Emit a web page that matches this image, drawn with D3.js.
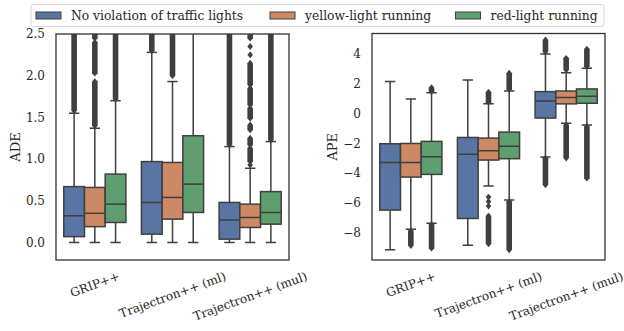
<!DOCTYPE html>
<html>
<head>
<meta charset="utf-8">
<script src="https://cdn.jsdelivr.net/npm/d3@7"></script>
<style>
  body { margin: 0; background: #fff; }
  svg text { font-family: "DejaVu Serif", "Liberation Serif", serif; fill: #262626; }
</style>
</head>
<body>
<svg id="chart" width="624" height="331"></svg>
<script>
const groups = ["GRIP++", "Trajectron++ (ml)", "Trajectron++ (mul)"];
const series = ["No violation of traffic lights", "yellow-light running", "red-light running"];
const colors = ["#5875a4", "#cc8963", "#5f9e6e"];

// box stats per group: [whisker low, q1, median, q3, whisker high]
const adeNoViolation = [[0, 0.07, 0.32, 0.67, 1.55], [0, 0.10, 0.48, 0.97, 2.28], [0, 0.04, 0.27, 0.48, 1.15]];
const adeYellow = [[0, 0.19, 0.35, 0.66, 1.37], [0, 0.28, 0.54, 0.96, 1.93], [0, 0.18, 0.30, 0.46, 0.89]];
const adeRed = [[0, 0.24, 0.46, 0.82, 1.70], [0, 0.36, 0.70, 1.28, 2.90], [0, 0.22, 0.36, 0.61, 1.21]];

// outliers per group, as [low, high] runs (a single point has low == high)
const adeFliersNoViolation = [[[1.58, 2.6]], [[2.30, 2.6]], [[1.17, 2.6]]];
const adeFliersYellow = [
  [[2.45, 2.6], [2.03, 2.40], [1.40, 1.93]],
  [[2.00, 2.6]],
  [[2.45, 2.6], [2.35, 2.35], [2.25, 2.25], [1.89, 2.15], [1.65, 1.85], [1.49, 1.61], [1.35, 1.41], [1.17, 1.25], [0.97, 1.13], [0.93, 0.93]]
];
const adeFliersRed = [[[1.72, 2.6]], [], [[1.23, 2.6]]];

const apeNoViolation = [[-9.13, -6.47, -3.28, -2.03, 2.13], [-8.82, -7.03, -2.74, -1.61, 2.24], [-2.91, -0.31, 0.84, 1.46, 3.98]];
const apeYellow = [[-7.75, -4.26, -3.28, -2.01, 0.97], [-4.85, -3.12, -2.50, -1.65, 0.65], [-0.66, 0.64, 1.06, 1.50, 2.73]];
const apeRed = [[-7.35, -4.08, -2.90, -1.87, 1.39], [-5.79, -3.03, -2.19, -1.25, 1.50], [-0.77, 0.68, 1.15, 1.64, 3.02]];

const apeFliersNoViolation = [[], [], [[4.13, 4.92], [-4.78, -3.00]]];
const apeFliersYellow = [
  [[-8.84, -7.85]],
  [[0.75, 1.42], [-5.60, -5.60], [-5.90, -5.90], [-6.20, -6.20], [-8.73, -6.86]],
  [[2.91, 3.69], [-2.99, -0.77]]
];
const apeFliersRed = [[[1.47, 1.72], [-9.02, -7.45]], [[1.60, 2.69], [-9.13, -5.90]], [[3.13, 4.31], [-4.33, -0.87]]];

const adeTicks = [0, 0.5, 1.0, 1.5, 2.0, 2.5];
const apeTicks = [-8, -6, -4, -2, 0, 2, 4];

const lineColor = "#3f3f3f";
const tickFont = 12;
const svg = d3.select("#chart");

function drawPanel(id, frame, domain, ticks, fmt, label, stats, fliers) {
  const g = svg.append("g");
  const x = d3.scaleBand().domain(groups).range([frame.left, frame.right])
    .paddingInner(0.2).paddingOuter(0.1);
  const xs = d3.scaleBand().domain(series).range([0, x.bandwidth()]);
  const y = d3.scaleLinear().domain(domain).range([frame.bottom, frame.top]);

  g.append("clipPath").attr("id", id)
    .append("rect")
    .attr("x", frame.left).attr("y", frame.top)
    .attr("width", frame.right - frame.left).attr("height", frame.bottom - frame.top);

  const plot = g.append("g").attr("clip-path", `url(#${id})`);

  series.forEach((s, si) => {
    groups.forEach((grp, gi) => {
      const [lo, q1, med, q3, hi] = stats[si][gi];
      const x0 = x(grp) + xs(s);
      const w = xs.bandwidth();
      const cx = x0 + w / 2;
      const cap = w / 4;
      const b = plot.append("g")
        .attr("stroke", lineColor).attr("stroke-width", 1.5);

      // whiskers and caps
      b.append("line").attr("x1", cx).attr("x2", cx).attr("y1", y(q3)).attr("y2", y(hi));
      b.append("line").attr("x1", cx).attr("x2", cx).attr("y1", y(q1)).attr("y2", y(lo));
      b.append("line").attr("x1", cx - cap).attr("x2", cx + cap).attr("y1", y(hi)).attr("y2", y(hi));
      b.append("line").attr("x1", cx - cap).attr("x2", cx + cap).attr("y1", y(lo)).attr("y2", y(lo));

      b.append("rect")
        .attr("x", x0).attr("y", y(q3))
        .attr("width", w).attr("height", y(q1) - y(q3))
        .attr("fill", colors[si]);
      b.append("line").attr("x1", x0).attr("x2", x0 + w).attr("y1", y(med)).attr("y2", y(med));

      // outliers: diamonds, dense runs drawn as a stretched diamond
      const hw = 2.8, hh = 3.4;
      fliers[si][gi].forEach(([a, c]) => {
        const yt = y(c), yb = y(a);
        plot.append("path")
          .attr("d", `M${cx},${yt - hh}L${cx + hw},${yt}L${cx + hw},${yb}L${cx},${yb + hh}L${cx - hw},${yb}L${cx - hw},${yt}Z`)
          .attr("fill", lineColor);
      });
    });
  });

  // frame
  g.append("rect")
    .attr("x", frame.left).attr("y", frame.top)
    .attr("width", frame.right - frame.left).attr("height", frame.bottom - frame.top)
    .attr("fill", "none").attr("stroke", "#333").attr("stroke-width", 1.3);

  // y tick labels
  g.selectAll(".ytick").data(ticks).join("text")
    .attr("x", frame.left - 11)
    .attr("y", d => y(d))
    .attr("dy", "0.35em")
    .attr("text-anchor", "end")
    .style("font-size", tickFont + "px")
    .text(d => d3.format(fmt)(d));

  // y label
  g.append("text")
    .attr("transform", `translate(${frame.labelX},${(frame.top + frame.bottom) / 2}) rotate(-90)`)
    .attr("text-anchor", "middle")
    .attr("dy", "0.35em")
    .style("font-size", "13px")
    .text(label);

  // rotated x tick labels, centered on the tick, hanging below the axis
  const ang = 20 * Math.PI / 180;
  groups.forEach(grp => {
    const t = g.append("text")
      .attr("text-anchor", "middle")
      .attr("dy", "0.35em")
      .style("font-size", tickFont + "px")
      .text(grp);
    const len = t.node().getComputedTextLength();
    const bh = len * Math.sin(ang) + tickFont * Math.cos(ang);
    const cx = x(grp) + x.bandwidth() / 2;
    const cy = frame.bottom + 10 + bh / 2;
    t.attr("transform", `translate(${cx},${cy}) rotate(-20)`);
  });
}

drawPanel("clipAde", { left: 56, right: 289, top: 34, bottom: 260, labelX: 15 },
  [-0.21, 2.5], adeTicks, ".1f", "ADE",
  [adeNoViolation, adeYellow, adeRed],
  [adeFliersNoViolation, adeFliersYellow, adeFliersRed]);

drawPanel("clipApe", { left: 372, right: 605, top: 33.5, bottom: 260, labelX: 332 },
  [-9.81, 5.35], apeTicks, "d", "APE",
  [apeNoViolation, apeYellow, apeRed],
  [apeFliersNoViolation, apeFliersYellow, apeFliersRed]);

// legend
const legend = svg.append("g");
legend.append("rect")
  .attr("x", 31).attr("y", 4.5).attr("width", 573).attr("height", 22)
  .attr("rx", 2.5)
  .attr("fill", "#fff").attr("stroke", "#d6d6d6").attr("stroke-width", 1);
const legendX = [36, 270, 455.5];
series.forEach((s, i) => {
  legend.append("rect")
    .attr("x", legendX[i]).attr("y", 12).attr("width", 25).attr("height", 7)
    .attr("fill", colors[i]).attr("stroke", lineColor).attr("stroke-width", 1);
  legend.append("text")
    .attr("x", legendX[i] + 35).attr("y", 15.5).attr("dy", "0.35em")
    .style("font-size", "12.3px")
    .text(s);
});
</script>
</body>
</html>
